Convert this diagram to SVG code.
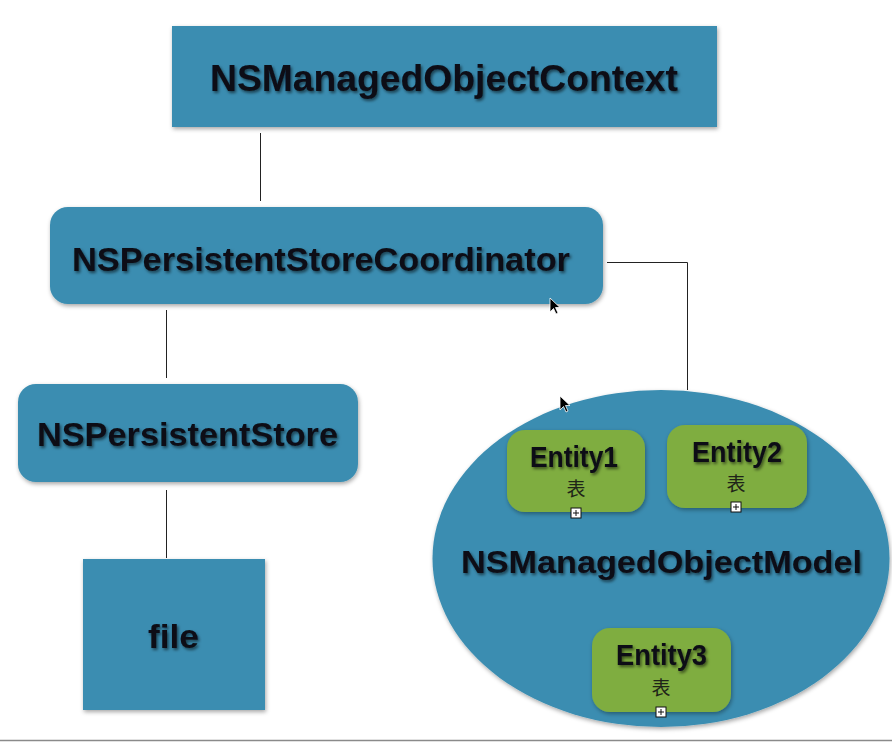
<svg xmlns="http://www.w3.org/2000/svg" width="892" height="742" viewBox="0 0 892 742">
  <defs>
    <filter id="boxShadow" x="-10%" y="-10%" width="120%" height="130%">
      <feDropShadow dx="1" dy="2" stdDeviation="2" flood-color="#000" flood-opacity="0.35"/>
    </filter>
    <filter id="txtShadow" x="-5%" y="-20%" width="110%" height="150%">
      <feDropShadow dx="1.5" dy="2" stdDeviation="1.5" flood-color="#000" flood-opacity="0.55"/>
    </filter>
    <style>
      .blue { fill: #3a8db1; }
      .green { fill: #7fad3f; }
      .lbl { font-family: "Liberation Sans", Arial, "Noto Sans CJK SC", sans-serif; font-weight: bold; fill: #0b0d16; filter: url(#txtShadow); }
      .cjk { font-family: "Noto Sans CJK SC", "Liberation Sans", sans-serif; font-size: 19px; fill: #1e2418; text-anchor: middle; }
      .conn { stroke: #222; stroke-width: 1; fill: none; }
      .plus { fill: #fff; stroke: #111; stroke-width: 1; }
      .cursor { fill: #000; stroke: #fff; stroke-width: 0.8; }
    </style>
  </defs>
  <rect width="892" height="742" fill="#ffffff"/>

  <g id="connectors">
    <line class="conn" x1="260.5" y1="133" x2="260.5" y2="201"/>
    <line class="conn" x1="166.5" y1="310" x2="166.5" y2="378"/>
    <line class="conn" x1="166.5" y1="490" x2="166.5" y2="558"/>
    <polyline class="conn" points="607,262.5 687.5,262.5 687.5,390"/>
  </g>

  <g id="context">
    <rect class="blue" x="172" y="26" width="545" height="101" filter="url(#boxShadow)"/>
    <text class="lbl" x="210" y="91" font-size="36" textLength="468" lengthAdjust="spacingAndGlyphs">NSManagedObjectContext</text>
  </g>

  <g id="coordinator">
    <rect class="blue" x="50" y="207" width="553" height="97" rx="18" filter="url(#boxShadow)"/>
    <text class="lbl" x="72" y="271" font-size="33" textLength="498" lengthAdjust="spacingAndGlyphs">NSPersistentStoreCoordinator</text>
  </g>

  <g id="store">
    <rect class="blue" x="18" y="384" width="340" height="98" rx="18" filter="url(#boxShadow)"/>
    <text class="lbl" x="37" y="446" font-size="33" textLength="301" lengthAdjust="spacingAndGlyphs">NSPersistentStore</text>
  </g>

  <g id="file">
    <rect class="blue" x="83" y="559" width="182" height="151" filter="url(#boxShadow)"/>
    <text class="lbl" x="148" y="648" font-size="33" textLength="51" lengthAdjust="spacingAndGlyphs">file</text>
  </g>

  <g id="model">
    <ellipse class="blue" cx="661" cy="558.5" rx="228.5" ry="168.5" filter="url(#boxShadow)"/>
    <text class="lbl" x="461" y="573" font-size="32" textLength="401" lengthAdjust="spacingAndGlyphs">NSManagedObjectModel</text>
  </g>

  <g id="entity1">
    <rect class="green" x="507" y="430" width="138" height="82" rx="18" filter="url(#boxShadow)"/>
    <text class="lbl" x="530" y="467" font-size="29" textLength="88" lengthAdjust="spacingAndGlyphs">Entity1</text>
    <text class="cjk" x="576" y="496">表</text>
    <rect class="plus" x="571" y="508" width="10" height="10"/>
    <path d="M573 513 H579 M576 510 V516" stroke="#111" stroke-width="1"/>
  </g>

  <g id="entity2">
    <rect class="green" x="667" y="425" width="140" height="83" rx="18" filter="url(#boxShadow)"/>
    <text class="lbl" x="692" y="462" font-size="29" textLength="90" lengthAdjust="spacingAndGlyphs">Entity2</text>
    <text class="cjk" x="736" y="491">表</text>
    <rect class="plus" x="731" y="502" width="10" height="10"/>
    <path d="M733 507 H739 M736 504 V510" stroke="#111" stroke-width="1"/>
  </g>

  <g id="entity3">
    <rect class="green" x="592" y="628" width="139" height="84" rx="18" filter="url(#boxShadow)"/>
    <text class="lbl" x="616" y="665" font-size="29" textLength="91" lengthAdjust="spacingAndGlyphs">Entity3</text>
    <text class="cjk" x="661" y="695">表</text>
    <rect class="plus" x="656" y="707" width="10" height="10"/>
    <path d="M658 712 H664 M661 709 V715" stroke="#111" stroke-width="1"/>
  </g>

  <g id="cursors">
    <path class="cursor" transform="translate(550,298)" d="M0,0 L0,14 L3.5,10.5 L6,16 L8,15 L5.5,9.5 L10,9.5 Z"/>
    <path class="cursor" transform="translate(560,396)" d="M0,0 L0,14 L3.5,10.5 L6,16 L8,15 L5.5,9.5 L10,9.5 Z"/>
  </g>

  <line x1="0" y1="740.5" x2="892" y2="740.5" stroke="#8a8a8a" stroke-width="1.5"/>
</svg>
